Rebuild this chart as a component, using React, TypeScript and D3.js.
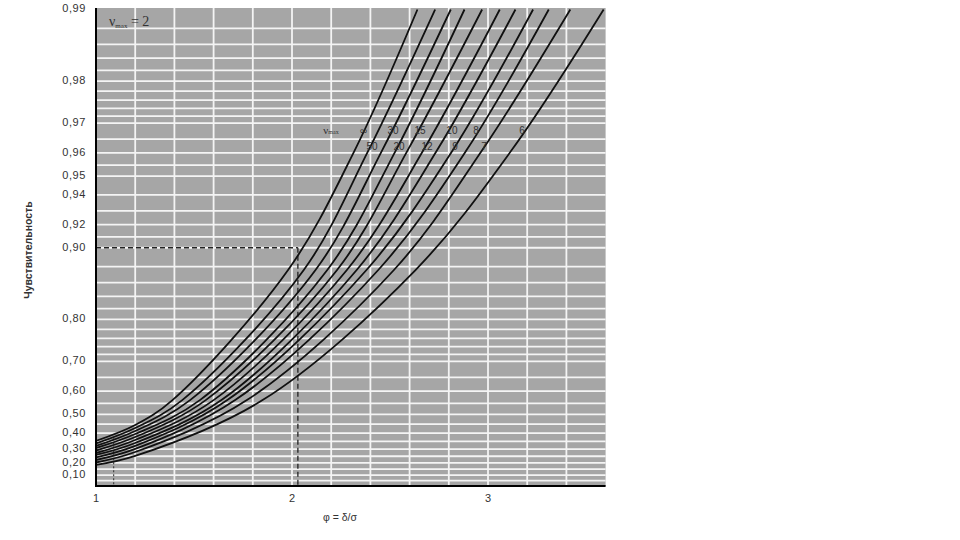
import React from "react";
import * as d3 from "d3";

// ---- data ----
const nuLabels = ["∞", "50", "30", "20", "15", "12", "10", "9", "8", "7", "6"];
// sensitivity at φ = 1.0 and φ = 1.2
const sensAtPhi100 = [0.353, 0.337, 0.321, 0.307, 0.29, 0.273, 0.259, 0.241, 0.222, 0.203, 0.184];
const sensAtPhi120 = [0.445, 0.429, 0.412, 0.395, 0.377, 0.359, 0.34, 0.321, 0.301, 0.28, 0.252];
// φ at which each curve reaches the given sensitivity levels
const readLevels = [0.564, 0.876, 0.961, 0.99];
const phiAtS0564 = [1.39, 1.44, 1.48, 1.53, 1.56, 1.6, 1.64, 1.67, 1.71, 1.77, 1.85];
const phiAtS0876 = [1.98, 2.06, 2.12, 2.18, 2.23, 2.28, 2.33, 2.38, 2.44, 2.52, 2.63];
const phiAtS0961 = [2.32, 2.39, 2.46, 2.53, 2.59, 2.67, 2.74, 2.82, 2.89, 2.97, 3.12];
const phiAtS099 = [2.64, 2.73, 2.81, 2.88, 2.97, 3.06, 3.14, 3.23, 3.31, 3.42, 3.59];

const yTickValues = [0.99, 0.98, 0.97, 0.96, 0.95, 0.94, 0.92, 0.9, 0.8, 0.7, 0.6, 0.5, 0.4, 0.3, 0.2, 0.1];
const yTickLabels = ["0,99", "0,98", "0,97", "0,96", "0,95", "0,94", "0,92", "0,90", "0,80", "0,70", "0,60", "0,50", "0,40", "0,30", "0,20", "0,10"];
const yGridValues = [
  0.05, 0.1, 0.15, 0.2, 0.25, 0.3, 0.35, 0.4, 0.45, 0.5, 0.55, 0.6, 0.65, 0.7, 0.72, 0.74, 0.76, 0.78,
  0.8, 0.82, 0.84, 0.86, 0.88, 0.9, 0.91, 0.92, 0.93, 0.94, 0.95, 0.955, 0.96, 0.965, 0.97, 0.972,
  0.974, 0.976, 0.978, 0.98, 0.982, 0.984, 0.986, 0.988,
];
const xTickValues = [1, 2, 3];
const xGridValues = [1.2, 1.4, 1.6, 1.8, 2.0, 2.2, 2.4, 2.6, 2.8, 3.0, 3.2, 3.4];

// example read-off (dashed guides)
const guidePhi = 2.03;
const guideSens = 0.9;
const guide2Phi = 1.09;
const guide2Sens = 0.37;

// curve labels: [label, φ, sensitivity] (top row and bottom row)
const labelTopRow = [["∞", 2.365], ["30", 2.515], ["15", 2.653], ["10", 2.816], ["8", 2.939], ["6", 3.173]];
const labelBottomRow = [["50", 2.408], ["20", 2.546], ["12", 2.689], ["9", 2.832], ["7", 2.98]];
const labelTopSens = 0.9676;
const labelBottomSens = 0.962;
const labelHeaderPhi = 2.16;

const W = 960;
const H = 540;
const left = 96;
const right = 605.6;
const bottom = 486;
const top = 9.5;

export default function App() {
  const x = d3.scaleLinear().domain([1, 3.6]).range([left, right]);
  // sensitivity axis: logarithmic in (1 - sensitivity)
  const yLog = d3.scaleLog().domain([1, 0.01]).range([bottom, top]);
  const y = (p: number) => yLog(1 - p);

  const curves = nuLabels.map((nu, k) => ({
    nu,
    pts: [
      [1.0, sensAtPhi100[k]],
      [1.2, sensAtPhi120[k]],
      [phiAtS0564[k], readLevels[0]],
      [phiAtS0876[k], readLevels[1]],
      [phiAtS0961[k], readLevels[2]],
      [phiAtS099[k], readLevels[3]],
    ] as [number, number][],
  }));

  const line = d3
    .line<[number, number]>()
    .x((d) => x(d[0]))
    .y((d) => y(d[1]))
    .curve(d3.curveCatmullRom.alpha(0.5));

  const plotTop = top - 1.5;
  const sans = "'Liberation Sans', Arial, sans-serif";
  const serif = "'Liberation Serif', 'Times New Roman', serif";

  return (
    <svg
      width={W}
      height={H}
      style={{ position: "absolute", left: 0, top: 0, background: "#fff" }}
      xmlns="http://www.w3.org/2000/svg"
    >
      <defs>
        <clipPath id="plot">
          <rect x={left} y={plotTop} width={right - left} height={bottom - plotTop} />
        </clipPath>
      </defs>
      <rect x={left} y={plotTop} width={right - left} height={bottom - plotTop} fill="#a6a6a6" />
      {yGridValues.map((v) => (
        <line key={"hy" + v} x1={left} x2={right} y1={y(v)} y2={y(v)} stroke="#f4f4f4" strokeWidth={1.8} />
      ))}
      {xGridValues.map((v) => (
        <line key={"vx" + v} x1={x(v)} x2={x(v)} y1={plotTop} y2={bottom} stroke="#f4f4f4" strokeWidth={1.8} />
      ))}

      {/* dashed guides */}
      <line x1={x(1)} x2={x(guidePhi)} y1={y(guideSens)} y2={y(guideSens)} stroke="#222" strokeWidth={1.3} strokeDasharray="5,3" />
      <line x1={x(guidePhi)} x2={x(guidePhi)} y1={y(guideSens)} y2={bottom} stroke="#222" strokeWidth={1.3} strokeDasharray="5,3" />
      <line x1={x(guide2Phi)} x2={x(guide2Phi)} y1={y(guide2Sens)} y2={bottom} stroke="#444" strokeWidth={1.2} strokeDasharray="2,2" />

      <g clipPath="url(#plot)">
        {curves.map((c) => (
          <path key={c.nu} d={line(c.pts) || ""} fill="none" stroke="#111" strokeWidth={1.8} />
        ))}
      </g>

      {/* axes */}
      <line x1={left} x2={left} y1={plotTop} y2={bottom + 1} stroke="#000" strokeWidth={2} />
      <line x1={left - 1} x2={right} y1={bottom} y2={bottom} stroke="#000" strokeWidth={2} />

      {yTickValues.map((v, i) => (
        <text
          key={"yt" + v}
          x={86}
          y={y(v)}
          textAnchor="end"
          dominantBaseline="middle"
          fontFamily={sans}
          fontSize={11}
          letterSpacing={0.6}
          fill="#333"
        >
          {yTickLabels[i]}
        </text>
      ))}
      {xTickValues.map((v) => (
        <text key={"xt" + v} x={x(v)} y={502} textAnchor="middle" fontFamily={sans} fontSize={11} fill="#333">
          {v}
        </text>
      ))}

      <text x={340} y={521} textAnchor="middle" fontFamily={sans} fontSize={10.5} fill="#333">
        φ = δ/σ
      </text>
      <text
        transform="translate(32,250) rotate(-90)"
        textAnchor="middle"
        fontFamily={sans}
        fontSize={10.5}
        fontWeight="bold"
        fill="#333"
      >
        Чувствительность
      </text>

      {/* parameter note */}
      <text x={109} y={26} fontFamily={serif} fontSize={14} fill="#333">
        ν<tspan fontSize={7} dy={2}>max</tspan>
        <tspan dy={-2}> = 2</tspan>
      </text>

      {/* curve labels */}
      <text x={x(labelHeaderPhi)} y={y(labelTopSens)} dominantBaseline="middle" fontFamily={serif} fontSize={11} fill="#333">
        ν<tspan fontSize={6} dy={2}>max</tspan>
      </text>
      {labelTopRow.map(([t, p]) => (
        <text
          key={"lt" + t}
          x={x(p as number)}
          y={y(labelTopSens)}
          textAnchor="middle"
          dominantBaseline="middle"
          fontFamily={sans}
          fontSize={10}
          fill="#333"
        >
          {t}
        </text>
      ))}
      {labelBottomRow.map(([t, p]) => (
        <text
          key={"lb" + t}
          x={x(p as number)}
          y={y(labelBottomSens)}
          textAnchor="middle"
          dominantBaseline="middle"
          fontFamily={sans}
          fontSize={10}
          fill="#333"
        >
          {t}
        </text>
      ))}
    </svg>
  );
}
